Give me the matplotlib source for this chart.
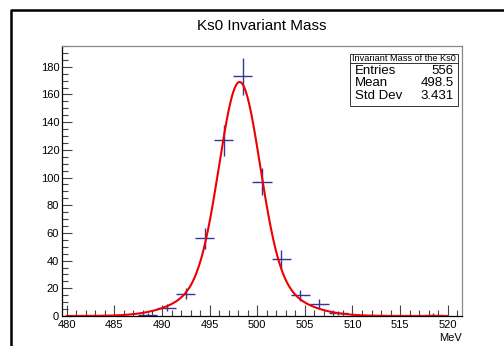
import numpy as np
import matplotlib.pyplot as plt
from matplotlib.ticker import MultipleLocator

plt.rcParams['font.family'] = ['Liberation Sans', 'DejaVu Sans']

# histogram: 21 bins of 2 MeV from 479.5 to 521.5
bin_lo = 479.5
bin_w = 2.0
counts = [0, 0, 0, 0, 1, 6, 16, 56, 127, 173, 97, 41, 15, 9, 2, 0, 0, 0, 0, 1, 0]

# fitted function (double gaussian), range 480-520
fit_mu = 498.15
fit_a1, fit_s1 = 140.0, 2.1
fit_a2, fit_s2 = 29.0, 4.5
fit_lo, fit_hi = 480.0, 520.0

stats_title = "Invariant Mass of the Ks0"
stats_rows = [("Entries", "556"), ("Mean", "498.5"), ("Std Dev", "3.431")]

counts = np.array(counts, dtype=float)
centers = bin_lo + bin_w * (np.arange(len(counts)) + 0.5)
mask = counts > 0

fig = plt.figure(figsize=(5.04, 3.46), dpi=100)
ax = fig.add_axes([62/504, 1-316/346, 400/504, 270/346])

blue = '#34349a'
ax.errorbar(centers[mask], counts[mask], xerr=bin_w/2, yerr=np.sqrt(counts[mask]),
            fmt='none', ecolor=blue, elinewidth=1.0, capsize=0, zorder=2)

xf = np.linspace(fit_lo, fit_hi, 800)
yf = (fit_a1 * np.exp(-(xf - fit_mu)**2 / (2 * fit_s1**2))
      + fit_a2 * np.exp(-(xf - fit_mu)**2 / (2 * fit_s2**2)))
ax.plot(xf, yf, color='#ee0000', lw=1.5, zorder=3)

ax.set_xlim(bin_lo, bin_lo + bin_w * len(counts))
ax.set_ylim(0, 195)
ax.xaxis.set_major_locator(MultipleLocator(5))
ax.xaxis.set_minor_locator(MultipleLocator(1))
ax.yaxis.set_major_locator(MultipleLocator(20))
ax.yaxis.set_minor_locator(MultipleLocator(5))
ax.tick_params(which='both', direction='in', labelsize=8, width=0.8, color='#444444')
ax.tick_params(which='major', length=8, pad=3)
ax.tick_params(which='minor', length=4)
ax.tick_params(axis='y', which='major', length=7, pad=2)
for s in ['top', 'right']:
    ax.spines[s].set_color('#888888')
for s in ax.spines.values():
    s.set_linewidth(0.9)

fig.text(262/504, 1-26/346, "Ks0 Invariant Mass", ha='center', va='center', fontsize=11)
fig.text(462/504, 1-338/346, "MeV", ha='right', va='center', fontsize=8)

# stats box
bx0, bx1 = 350/504, 458/504
by_top, by_sep, by_bot = 1-54/346, 1-63/346, 1-106/346
fig.patches.append(plt.Rectangle((bx0, by_bot), bx1-bx0, by_top-by_bot, transform=fig.transFigure,
                                 facecolor='white', edgecolor='#333333', lw=0.7, zorder=5))
fig.lines.append(plt.Line2D([bx0, bx1], [by_sep, by_sep], transform=fig.transFigure,
                            color='#333333', lw=0.7, zorder=6))
fig.text((bx0+bx1)/2, (by_top+by_sep)/2, stats_title, ha='center', va='center', fontsize=6.6, zorder=7)
row_y = [71, 83.5, 96]
for (k, v), yy in zip(stats_rows, row_y):
    fig.text(bx0 + 5/504, 1-yy/346, k, ha='left', va='center', fontsize=9.5, zorder=7)
    fig.text(bx1 - 4/504, 1-yy/346, v, ha='right', va='center', fontsize=9.5, zorder=7)

# canvas border (left and top)
fig.lines.append(plt.Line2D([11/504, 11/504, 1], [0, 1-10/346, 1-10/346], transform=fig.transFigure,
                            color='black', lw=1.8))

fig.savefig('out.png', dpi=100)
